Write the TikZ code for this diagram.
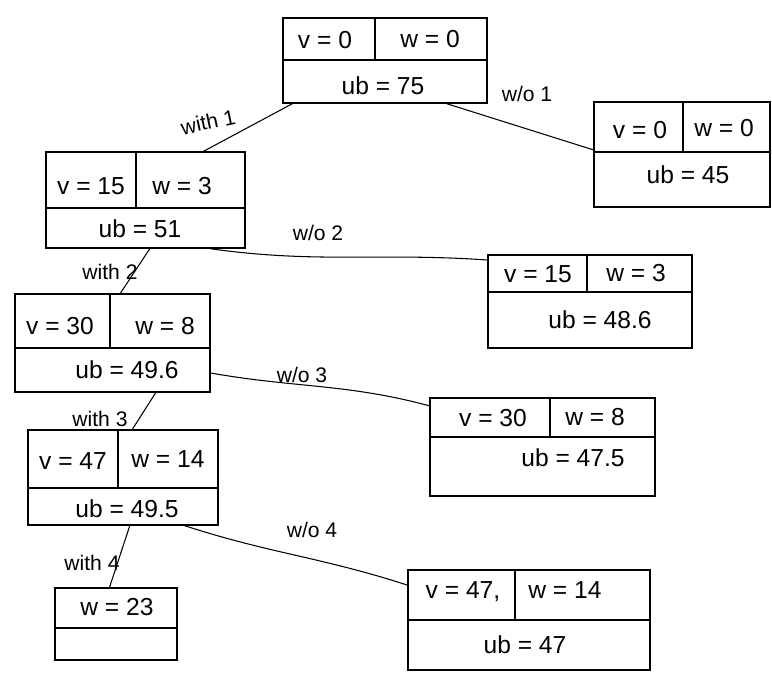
\documentclass[tikz,border=0pt]{standalone}
\usepackage{fontspec}
\setmainfont{Liberation Sans}
\usetikzlibrary{fit}

\begin{document}
\begin{tikzpicture}[x=0.02cm,y=-0.02cm,
	bbox/.style={draw, thick, inner sep=0pt},
	cell/.style={font=\fontsize{14}{16}\selectfont},
	link/.style={semithick},
	branch/.style={font=\fontsize{12}{14}\selectfont}]
	\useasboundingbox (0,0) rectangle (772,675);
	% root
	\node[bbox, fit={(283,18) (487,103)}] (root) {};
	\draw[thick] (root.west |- 0,60) -- (root.east |- 0,60);
	\draw[thick] (375,0 |- root.north) -- (375,60);
	\node[cell] (root-v) at (325,40) {v = 0};
	\node[cell] (root-w) at (430,39) {w = 0};
	\node[cell] (root-ub) at (383,86) {ub = 75};
	% with 1
	\node[bbox, fit={(46,152) (245,248)}] (n1) {};
	\draw[thick] (n1.west |- 0,208) -- (n1.east |- 0,208);
	\draw[thick] (136,0 |- n1.north) -- (136,208);
	\node[cell] (n1-v) at (91,186) {v = 15};
	\node[cell] (n1-w) at (182,186) {w = 3};
	\node[cell] (n1-ub) at (140,229) {ub = 51};
	% without 1
	\node[bbox, fit={(594,102) (770,207)}] (n2) {};
	\draw[thick] (n2.west |- 0,152) -- (n2.east |- 0,152);
	\draw[thick] (683,0 |- n2.north) -- (683,152);
	\node[cell] (n2-v) at (640,130) {v = 0};
	\node[cell] (n2-w) at (724,128) {w = 0};
	\node[cell] (n2-ub) at (688,175) {ub = 45};
	% with 2
	\node[bbox, fit={(15,294) (210,392)}] (n3) {};
	\draw[thick] (n3.west |- 0,348) -- (n3.east |- 0,348);
	\draw[thick] (110,0 |- n3.north) -- (110,348);
	\node[cell] (n3-v) at (60,326) {v = 30};
	\node[cell] (n3-w) at (165,326) {w = 8};
	\node[cell] (n3-ub) at (127,370) {ub = 49.6};
	% without 2
	\node[bbox, fit={(488,255) (692,348)}] (n4) {};
	\draw[thick] (n4.west |- 0,292) -- (n4.east |- 0,292);
	\draw[thick] (587,0 |- n4.north) -- (587,292);
	\node[cell] (n4-v) at (538,274) {v = 15};
	\node[cell] (n4-w) at (636,273) {w = 3};
	\node[cell] (n4-ub) at (600,320) {ub = 48.6};
	% with 3
	\node[bbox, fit={(28,430) (218,525)}] (n5) {};
	\draw[thick] (n5.west |- 0,488) -- (n5.east |- 0,488);
	\draw[thick] (118,0 |- n5.north) -- (118,488);
	\node[cell] (n5-v) at (73,461) {v = 47};
	\node[cell] (n5-w) at (168,459) {w = 14};
	\node[cell] (n5-ub) at (127,509) {ub = 49.5};
	% without 3
	\node[bbox, fit={(430,398) (655,496)}] (n6) {};
	\draw[thick] (n6.west |- 0,437) -- (n6.east |- 0,437);
	\draw[thick] (550,0 |- n6.north) -- (550,437);
	\node[cell] (n6-v) at (493,418) {v = 30};
	\node[cell] (n6-w) at (595,417) {w = 8};
	\node[cell] (n6-ub) at (573,458) {ub = 47.5};
	% with 4
	\node[bbox, fit={(55,588) (177,660)}] (n7) {};
	\draw[thick] (n7.west |- 0,628) -- (n7.east |- 0,628);
	\node[cell] (n7-w) at (117,607) {w = 23};
	% without 4
	\node[bbox, fit={(408,570) (650,670)}] (n8) {};
	\draw[thick] (n8.west |- 0,620) -- (n8.east |- 0,620);
	\draw[thick] (515,0 |- n8.north) -- (515,620);
	\node[cell] (n8-v) at (463,592) {v = 47,};
	\node[cell] (n8-w) at (565,590) {w = 14};
	\node[cell] (n8-ub) at (525,645) {ub = 47};

	% branches
	\draw[link] (root.205) -- (n1.40);
	\draw[link] (root.-35) -- (n2.177);
	\draw[link] (n1.-85) -- (n3.81);
	\draw[link] (n1.-37) to[out=-8,in=176] (n4.158);
	\draw[link] (n3.-49) -- (n5.79);
	\draw[link] (n3.-17) to[out=-10,in=165] (n6.160);
	\draw[link] (n5.-82) -- (n7.100);
	\draw[link] (n5.-38) to[out=-18,in=162] (n8.164);
	\node[branch, rotate=12] (b1) at (208,122) {with 1};
	\node[branch] (b2) at (527,94) {w/o 1};
	\node[branch] (b3) at (110,272) {with 2};
	\node[branch] (b4) at (318,233) {w/o 2};
	\node[branch] (b5) at (100,419) {with 3};
	\node[branch] (b6) at (302,375) {w/o 3};
	\node[branch] (b7) at (92,563) {with 4};
	\node[branch] (b8) at (312,530) {w/o 4};
\end{tikzpicture}
\end{document}
